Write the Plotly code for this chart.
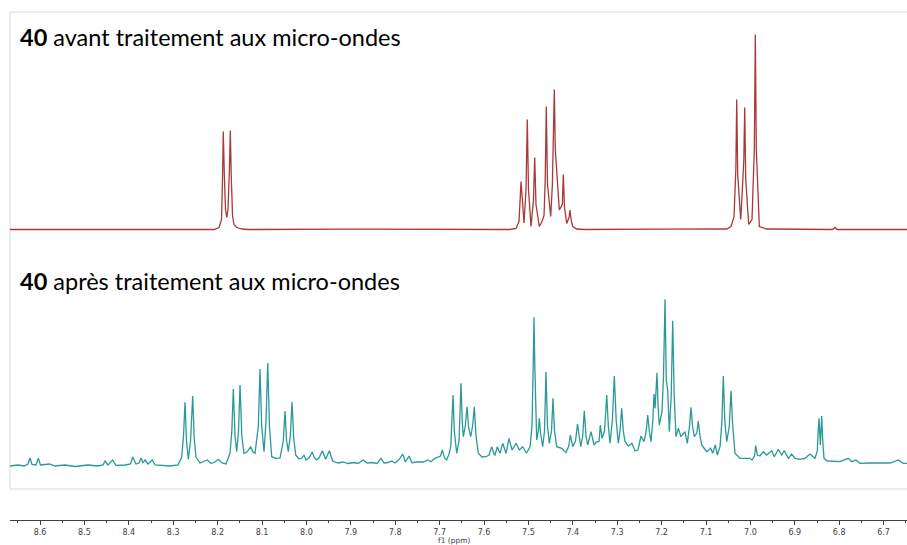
import plotly.graph_objects as go

# ---- top spectrum: 40 before microwave treatment (ppm, intensity a.u.) ----
top_ppm = [8.6676, 8.40, 8.2081, 8.1968, 8.1912, 8.1890, 8.1872, 8.1849, 8.1822, 8.1795,
           8.1766, 8.1734, 8.1714, 8.1694, 8.1664, 8.1631, 8.1563, 8.1450, 8.1315, 7.90,
           7.70, 7.5414, 7.5279, 7.5212, 7.5166, 7.5099, 7.5054, 7.5025, 7.4998, 7.4941,
           7.4885, 7.4858, 7.4829, 7.4754, 7.4694, 7.4648, 7.4621, 7.4597, 7.4570, 7.4498,
           7.4461, 7.4437, 7.4416, 7.4394, 7.4362, 7.4304, 7.4236, 7.4214, 7.4187, 7.4137,
           7.4085, 7.4063, 7.4040, 7.4002, 7.3912, 7.3725, 7.20, 7.0684, 7.0533, 7.0437,
           7.0369, 7.0328, 7.0308, 7.0286, 7.0218, 7.0182, 7.0148, 7.0128, 7.0105, 7.0038,
           6.9964, 6.9912, 6.9889, 6.9867, 6.9799, 6.9633, 6.90, 6.815, 6.8094, 6.805, 6.6473]
top_int = [0, 0.3, 0, 2, 10, 50, 98, 55, 20, 12,
           20, 60, 99, 55, 14, 5, 2, 0.5, 0, 0.3,
           0, 0, 1, 8, 48, 6.5, 40, 110, 40, 3,
           30, 72, 25, 3, 8, 14, 50, 123, 45, 13,
           44, 90, 140, 80, 56, 19.5, 25, 55, 22, 6,
           12, 19.5, 10, 3, 0.5, 0, 0.3, 0, 0.5, 3,
           12.6, 60, 130, 55, 10, 39, 70, 122, 50, 5,
           10, 80, 195, 80, 3, 0.5, 0, 0, 2, 0, 0]

# ---- bottom spectrum: 40 after microwave treatment ----
bot_ppm = [8.6676, 8.6495, 8.6360, 8.6270, 8.6225, 8.6180, 8.6090, 8.6038, 8.5989, 8.5791,
           8.5662, 8.5437, 8.5212, 8.4919, 8.4694, 8.4581, 8.4536, 8.4468, 8.4363, 8.4288,
           8.4086, 8.3962, 8.3912, 8.3838, 8.3770, 8.3725, 8.3680, 8.3635, 8.3568, 8.3471,
           8.3410, 8.3252, 8.3072, 8.2892, 8.2809, 8.2768, 8.2734, 8.2700, 8.2660, 8.2610,
           8.2561, 8.2527, 8.2486, 8.2396, 8.2329, 8.2232, 8.2149, 8.2059, 8.1984, 8.1901,
           8.1811, 8.1721, 8.1680, 8.1646, 8.1608, 8.1570, 8.1529, 8.1495, 8.1455, 8.1405,
           8.1338, 8.1254, 8.1203, 8.1158, 8.1083, 8.1045, 8.1007, 8.0955, 8.0910, 8.0871,
           8.0833, 8.0782, 8.0685, 8.0595, 8.0520, 8.0482, 8.0446, 8.0408, 8.0362, 8.0324,
           8.0286, 8.0241, 8.0167, 8.0099, 8.0054, 8.0009, 7.9941, 7.9869, 7.9818, 7.9768,
           7.9716, 7.9642, 7.9565, 7.9484, 7.9408, 7.9288, 7.9176, 7.9063, 7.8928, 7.8838,
           7.8718, 7.8635, 7.8522, 7.8410, 7.8320, 7.8252, 7.8162, 7.8079, 7.8004, 7.7908,
           7.7831, 7.7768, 7.7689, 7.7621, 7.7509, 7.7367, 7.7261, 7.7194, 7.7104, 7.7029,
           7.6980, 7.6939, 7.6890, 7.6840, 7.6788, 7.6750, 7.6721, 7.6698, 7.6669, 7.6615,
           7.6563, 7.6541, 7.6518, 7.6491, 7.6466, 7.6421, 7.6383, 7.6345, 7.6300, 7.6257,
           7.6218, 7.6180, 7.6128, 7.6045, 7.5955, 7.5887, 7.5826, 7.5775, 7.5752, 7.5700,
           7.5639, 7.5579, 7.5504, 7.5437, 7.5369, 7.5279, 7.5205, 7.5128, 7.5043, 7.4964,
           7.4919, 7.4892, 7.4874, 7.4856, 7.4833, 7.4813, 7.4777, 7.4754, 7.4727, 7.4678,
           7.4637, 7.4604, 7.4570, 7.4529, 7.4480, 7.4446, 7.4412, 7.4362, 7.4250, 7.4153,
           7.4090, 7.4056, 7.4002, 7.3939, 7.3894, 7.3860, 7.3822, 7.3777, 7.3741, 7.3703,
           7.3664, 7.3590, 7.3522, 7.3462, 7.3410, 7.3381, 7.3342, 7.3286, 7.3236, 7.3200,
           7.3162, 7.3110, 7.3065, 7.3022, 7.2975, 7.2937, 7.2899, 7.2863, 7.2824, 7.2750,
           7.2667, 7.2599, 7.2532, 7.2464, 7.2396, 7.2347, 7.2313, 7.2277, 7.2239, 7.2198,
           7.2171, 7.2148, 7.2126, 7.2103, 7.2081, 7.2052, 7.1991, 7.1957, 7.1923, 7.1894,
           7.1863, 7.1826, 7.1784, 7.1750, 7.1716, 7.1676, 7.1624, 7.1563, 7.1473, 7.1421,
           7.1371, 7.1337, 7.1304, 7.1263, 7.1207, 7.1174, 7.1135, 7.1097, 7.0984, 7.0894,
           7.0849, 7.0790, 7.0745, 7.0684, 7.0642, 7.0610, 7.0576, 7.0533, 7.0475, 7.0437,
           7.0398, 7.0347, 7.0234, 7.0121, 7.0009, 6.9964, 6.9907, 6.9880, 6.9844, 6.9784,
           6.9709, 6.9633, 6.9520, 6.9462, 6.9372, 6.9295, 6.9236, 6.9146, 6.9070, 6.8995,
           6.8883, 6.8770, 6.8657, 6.8545, 6.8493, 6.8473, 6.8455, 6.8425, 6.8394, 6.8371,
           6.8342, 6.8267, 6.8094, 6.7982, 6.7795, 6.7718, 6.7622, 6.7532, 6.7307, 6.7081,
           6.6856, 6.6669, 6.6556, 6.6473]
bot_int = [0, 1, 0, 2, 8, 1.5, 1, 7.7, 1, 2,
           0, 1, -0.5, 1, 0, 1, 5, 1, 6, 0.5,
           1, 2, 9, 2, 3, 8, 3, 6, 2, 6,
           1, 0.5, 0, 1, 9, 30, 63.7, 25, 6.7, 25,
           70, 28, 8.7, 3, 4, 6, 2.5, 4, 6.7, 3,
           2, 12.7, 35, 77, 30, 14.3, 35, 81, 30, 12.7,
           14, 19.3, 14, 12.7, 40, 97, 40, 14.3, 45, 103,
           40, 9.3, 7.7, 8, 25, 55, 25, 14.3, 30, 64,
           28, 11, 7, 8, 11, 6, 8, 14, 8, 6,
           8, 15.3, 6.7, 15.3, 5, 3, 4, 2.5, 3.5, 2.5,
           6, 3, 3.5, 2.5, 7.7, 3, 3.5, 5, 3, 6.7,
           12, 4, 10, 3.3, 4, 4, 6, 4.3, 7.7, 8.7,
           10, 16, 8, 6, 12, 19.3, 45, 71, 35, 12.7,
           25, 50, 82.7, 45, 29.3, 40, 59.3, 38, 29.3, 40,
           59.3, 30, 12.7, 9, 9.3, 11, 19.3, 12, 11, 19.3,
           12.7, 22.7, 12.7, 27.7, 16, 22.7, 16, 19.3, 12.7, 19.3,
           40, 100, 148.7, 100, 45, 26, 35, 47.7, 33, 19.3,
           35, 94.3, 40, 22.7, 35, 67.7, 35, 19.3, 17.7, 13.3,
           20, 31, 19.3, 25, 42, 28, 19.3, 30, 55.3, 30,
           21, 34.3, 21, 24.3, 24.3, 41, 27.7, 35, 71, 40,
           22.7, 45, 90, 45, 22.7, 35, 57.7, 35, 24.3, 20,
           22.7, 15, 16, 30, 24.3, 35, 51, 35, 24.3, 45,
           72, 57.7, 75, 93.3, 60, 41, 54.3, 90, 166.7, 85,
           76, 34.3, 70, 145.3, 70, 29.3, 37.7, 29.3, 34.3, 22.7,
           40, 58.7, 40, 29.3, 33, 45, 30, 21, 14.3, 17.7,
           12.7, 21, 11, 19.3, 45, 90, 45, 24.3, 40, 75.3,
           40, 12.7, 7.7, 8, 7.7, 6, 10, 20.3, 11, 10,
           14.3, 11, 15.3, 9.3, 16.7, 11, 15.3, 7.7, 12, 7.7,
           6.7, 7.7, 12, 7.7, 15, 35, 47.7, 21, 50, 25,
           7.7, 5, 4.3, 4.3, 7.7, 4.3, 6, 2.7, 3, 2.7,
           3, 6, 2.7, 2.7]

tick_vals = [8.6, 8.5, 8.4, 8.3, 8.2, 8.1, 8.0, 7.9, 7.8, 7.7, 7.6, 7.5, 7.4, 7.3, 7.2, 7.1, 7.0, 6.9, 6.8, 6.7]
tick_text = ["8.6", "8.5", "8.4", "8.3", "8.2", "8.1", "8.0", "7.9", "7.8", "7.7", "7.6", "7.5", "7.4", "7.3",
             "7.2", "7.1", "7.0", "6.9", "6.8", "6.7"]
label_top = "<b>40</b> avant traitement aux micro-ondes"
label_bot = "<b>40</b> après traitement aux micro-ondes"
axis_title = "f1 (ppm)"

fig = go.Figure()
fig.add_trace(go.Scatter(x=bot_ppm, y=bot_int, mode="lines", yaxis="y",
                         line=dict(color="#2a9a96", width=1.3), hoverinfo="skip", showlegend=False))
fig.add_trace(go.Scatter(x=top_ppm, y=top_int, mode="lines", yaxis="y2",
                         line=dict(color="#a93838", width=1.3), hoverinfo="skip", showlegend=False))

fig.update_layout(
    width=907, height=545,
    margin=dict(l=10, r=0, t=12, b=25),
    paper_bgcolor="white", plot_bgcolor="white",
    xaxis=dict(range=[8.6676, 6.6473], tickmode="array", tickvals=tick_vals, ticktext=tick_text,
               showgrid=False, zeroline=False, showline=True, linecolor="#404040", linewidth=1,
               ticks="outside", ticklen=4, tickcolor="#404040", tickwidth=1,
               tickfont=dict(family="DejaVu Sans", size=8, color="#404040"),
               minor=dict(dtick=0.05, tick0=0, ticks="outside", ticklen=2, tickcolor="#404040", showgrid=False),
               automargin=False, fixedrange=True),
    yaxis=dict(range=[-54, 454], visible=False, domain=[0, 1], fixedrange=True),
    yaxis2=dict(range=[-290.5, 217.5], visible=False, overlaying="y", fixedrange=True),
    shapes=[dict(type="rect", xref="paper", yref="paper", x0=0, x1=1.01, y0=0.061, y1=1,
                 line=dict(color="#d9d9d9", width=1), layer="below")],
    annotations=[
        dict(text=label_top, xref="paper", yref="paper", x=0.0089, y=0.9508, xanchor="left", yanchor="middle",
             showarrow=False, font=dict(family="Lato", size=23.5, color="#000")),
        dict(text=label_bot, xref="paper", yref="paper", x=0.0089, y=0.4705, xanchor="left", yanchor="middle",
             showarrow=False, font=dict(family="Lato", size=23.5, color="#000")),
        dict(text=axis_title, xref="paper", yref="paper", x=0.496, y=-0.0394, xanchor="center", yanchor="middle",
             showarrow=False, font=dict(family="DejaVu Sans", size=7.5, color="#404040")),
    ],
)

fig.write_html("out.html", config={"displayModeBar": False},
               post_script="document.body.style.margin='0px';document.body.style.overflow='hidden';")
